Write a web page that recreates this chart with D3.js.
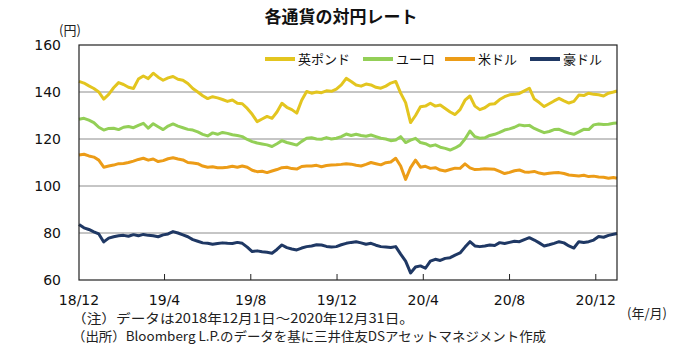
<!DOCTYPE html>
<html>
<head>
<meta charset="utf-8">
<script src="https://cdn.jsdelivr.net/npm/d3@7"></script>
<style>
  body { margin: 0; background: #fff; }
  svg { display: block; }
  .jp { font-family: "Noto Sans CJK JP", "Noto Sans", sans-serif; }
  .num { font-family: "DejaVu Sans", Verdana, sans-serif; }
</style>
</head>
<body>
<svg id="chart" width="687" height="351"></svg>
<script>
// data (weekly readings, 2018-12-01 .. 2020-12-31)
const seriesNames = ["英ポンド", "ユーロ", "米ドル", "豪ドル"];
const seriesColors = ["#E3C51F", "#93CF57", "#EC9C17", "#1F3864"];

const gbp = [144.5,143.8,142.6,141.5,140.0,137.0,139.0,141.8,144.0,143.2,
  142.0,141.5,145.5,146.8,145.7,148.0,146.3,145.0,146.0,146.6,
  145.4,145.0,143.6,141.5,140.0,138.4,137.2,138.0,137.5,136.8,
  136.0,136.6,135.2,135.0,133.0,130.5,127.4,128.5,129.6,128.8,
  131.5,135.2,133.5,132.5,131.0,136.5,140.2,139.5,140.0,139.7,
  140.5,140.3,141.2,143.0,145.8,144.5,143.0,142.5,143.4,143.0,
  142.0,141.6,142.5,143.8,144.5,139.5,135.5,127.0,130.0,133.7,
  134.0,135.2,134.0,134.5,133.0,131.5,130.4,132.5,136.5,138.3,
  134.0,132.5,133.3,134.8,135.0,136.8,138.0,138.8,139.0,139.4,
  140.5,141.6,137.0,135.5,133.8,135.0,136.2,137.3,136.2,135.3,
  136.0,138.7,138.5,139.5,139.0,138.8,138.3,139.5,140.0,140.4];

const eur = [128.4,128.8,128.0,127.0,125.0,123.8,124.5,124.6,124.0,125.0,
  125.3,124.8,125.8,126.7,124.6,126.5,125.2,124.0,125.5,126.4,
  125.5,124.8,124.1,123.8,123.0,122.0,121.3,122.6,122.0,122.8,
  122.4,121.8,121.5,121.0,119.8,118.9,118.3,117.9,117.5,116.8,
  118.0,119.3,118.5,118.0,117.4,119.0,120.3,120.5,120.0,119.9,
  120.6,120.0,120.3,121.0,122.1,121.5,122.0,121.5,121.2,121.7,
  121.0,120.3,120.0,119.3,119.6,121.0,118.5,119.5,120.3,118.5,
  118.0,117.0,117.5,116.5,116.0,115.3,116.2,117.4,120.0,123.4,
  121.0,120.3,120.5,121.5,122.0,122.8,123.8,124.3,125.0,126.0,
  125.6,125.8,124.5,123.6,122.7,123.2,124.0,124.1,123.2,122.5,
  122.0,123.0,124.1,124.0,126.0,126.4,126.2,126.3,126.7,126.8];

const usd = [113.2,113.5,112.8,112.3,111.0,108.0,108.5,108.9,109.5,109.6,
  110.0,110.6,111.3,111.8,111.0,111.5,110.4,110.8,111.6,112.0,
  111.5,111.1,110.0,109.8,109.5,108.5,108.0,108.2,107.8,107.8,
  108.0,108.4,108.0,108.5,108.0,106.7,106.1,106.3,105.7,106.4,
  107.0,107.8,108.0,107.4,107.2,108.3,108.5,108.5,108.8,108.2,
  108.7,108.9,109.0,109.2,109.5,109.3,108.8,108.5,109.2,110.0,
  109.5,109.0,109.9,110.2,111.8,108.5,102.8,107.8,111.0,108.0,
  108.4,107.5,107.8,106.8,106.4,107.0,107.6,107.5,109.4,107.7,
  107.0,107.1,107.3,107.2,107.1,106.2,105.3,105.8,106.5,106.8,
  106.0,105.9,106.2,105.5,105.1,105.4,105.6,105.7,105.3,104.7,
  104.5,104.3,104.6,104.0,104.2,103.8,103.7,103.3,103.6,103.3];

const aud = [83.6,82.2,81.5,80.5,79.6,76.2,77.8,78.4,78.8,79.0,
  78.6,79.3,78.8,79.4,79.0,78.8,78.4,79.2,79.6,80.6,
  80.0,79.2,78.4,77.2,76.5,75.8,75.6,75.2,75.5,75.8,
  75.6,75.5,76.0,75.6,74.0,72.1,72.4,72.0,71.8,71.4,
  73.0,74.9,73.8,73.2,72.8,73.6,74.2,74.5,75.0,74.9,
  74.3,74.0,74.2,75.0,75.6,76.0,76.3,75.8,75.2,75.6,
  74.8,74.2,74.0,73.8,74.2,71.0,68.0,63.0,65.5,66.0,
  65.0,68.0,68.8,68.3,69.2,69.5,70.6,71.5,74.0,76.3,
  74.5,74.2,74.5,74.9,74.7,75.9,75.5,76.0,76.5,76.3,
  77.2,78.0,77.0,75.8,74.5,75.0,75.6,76.3,75.8,74.5,
  73.6,76.3,76.0,76.3,77.0,78.5,78.2,79.0,79.5,79.8];

const yTicks = [60, 80, 100, 120, 140, 160];
const xTickDates = ["2018-12-01", "2019-04-01", "2019-08-01", "2019-12-01",
  "2020-04-01", "2020-08-01", "2020-12-01"];

const startDate = new Date(2018, 11, 1);
const endDate = new Date(2020, 11, 31);
const dates = gbp.map((d, i) =>
  i === gbp.length - 1 ? endDate : d3.timeDay.offset(startDate, 7 * i));

const allSeries = [gbp, eur, usd, aud];

// layout
const plot = { left: 79, right: 617, top: 45, bottom: 280 };
const svg = d3.select("#chart");

const x = d3.scaleTime().domain([startDate, endDate]).range([plot.left, plot.right]);
const y = d3.scaleLinear().domain([60, 160]).range([plot.bottom, plot.top]);

// title
svg.append("text")
  .attr("class", "jp")
  .attr("x", 341).attr("y", 23)
  .attr("text-anchor", "middle")
  .style("font-size", "17px").style("font-weight", "bold")
  .style("fill", "#111")
  .text("各通貨の対円レート");

svg.append("text")
  .attr("class", "jp")
  .attr("x", 59).attr("y", 35)
  .style("font-size", "13px").style("fill", "#222")
  .text("(円)");

// gridlines
svg.append("g")
  .selectAll("line")
  .data(yTicks.filter(v => v > 60 && v < 160))
  .join("line")
  .attr("x1", plot.left).attr("x2", plot.right)
  .attr("y1", d => y(d)).attr("y2", d => y(d))
  .attr("stroke", "#8c8c8c").attr("stroke-width", 1);

// y labels
svg.append("g")
  .selectAll("text")
  .data(yTicks)
  .join("text")
  .attr("class", "num")
  .attr("x", 61).attr("y", d => y(d))
  .attr("dy", "0.36em")
  .attr("text-anchor", "end")
  .style("font-size", "14px").style("fill", "#111")
  .text(d => d);

// x axis ticks (inward) + labels
const xt = xTickDates.map(s => d3.timeParse("%Y-%m-%d")(s));
svg.append("g")
  .selectAll("line")
  .data(xt.slice(1))
  .join("line")
  .attr("x1", d => x(d)).attr("x2", d => x(d))
  .attr("y1", plot.bottom - 6).attr("y2", plot.bottom)
  .attr("stroke", "#222").attr("stroke-width", 1);

svg.append("g")
  .selectAll("text")
  .data(xt)
  .join("text")
  .attr("class", "num")
  .attr("x", d => x(d)).attr("y", 305)
  .attr("text-anchor", "middle")
  .style("font-size", "14px").style("fill", "#111")
  .text(d3.timeFormat("%y/%-m"));

// lines
const line = d3.line()
  .x((d, i) => x(dates[i]))
  .y(d => y(d))
  .curve(d3.curveLinear);

svg.append("g")
  .selectAll("path")
  .data(allSeries)
  .join("path")
  .attr("d", d => line(d))
  .attr("fill", "none")
  .attr("stroke", (d, i) => seriesColors[i])
  .attr("stroke-width", 3)
  .attr("stroke-linejoin", "round");

// frame
svg.append("rect")
  .attr("x", plot.left).attr("y", plot.top)
  .attr("width", plot.right - plot.left).attr("height", plot.bottom - plot.top)
  .attr("fill", "none").attr("stroke", "#222").attr("stroke-width", 1.2);

// legend
const legendX = [265, 363, 445, 530];
const lg = svg.append("g");
seriesNames.forEach((name, i) => {
  lg.append("line")
    .attr("x1", legendX[i]).attr("x2", legendX[i] + 30)
    .attr("y1", 59).attr("y2", 59)
    .attr("stroke", seriesColors[i]).attr("stroke-width", 4);
  lg.append("text")
    .attr("class", "jp")
    .attr("x", legendX[i] + 33).attr("y", 59)
    .attr("dy", "0.36em")
    .style("font-size", "13px").style("fill", "#111")
    .text(name);
});

// footnotes
svg.append("text")
  .attr("class", "jp")
  .attr("x", 627).attr("y", 318)
  .style("font-size", "13px").style("fill", "#222")
  .text("(年/月)");

svg.append("text")
  .attr("class", "jp")
  .attr("x", 72).attr("y", 323)
  .attr("textLength", 342).attr("lengthAdjust", "spacingAndGlyphs")
  .style("font-size", "13px").style("fill", "#222")
  .text("（注）データは2018年12月1日～2020年12月31日。");

svg.append("text")
  .attr("class", "jp")
  .attr("x", 72).attr("y", 341)
  .attr("textLength", 474).attr("lengthAdjust", "spacingAndGlyphs")
  .style("font-size", "13px").style("fill", "#222")
  .text("（出所）Bloomberg L.P.のデータを基に三井住友DSアセットマネジメント作成");
</script>
</body>
</html>
